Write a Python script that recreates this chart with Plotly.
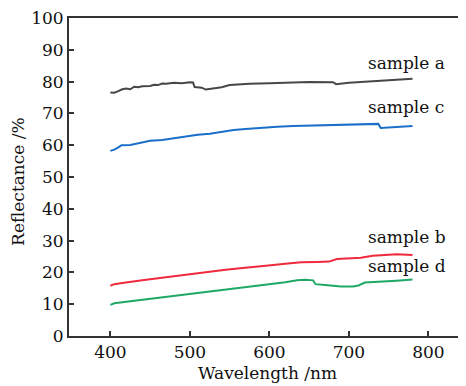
import plotly.graph_objects as go

wl_a = [400, 405, 410, 415, 420, 425, 430, 435, 440, 450, 455, 460, 465, 470, 480, 490, 500, 504, 506, 515, 520, 530, 540, 550, 560, 575, 600, 625, 650, 680, 684, 700, 720, 740, 760, 780]
val_a = [76.6, 76.5, 77.0, 77.6, 77.8, 77.6, 78.4, 78.2, 78.5, 78.6, 79.0, 78.9, 79.4, 79.3, 79.6, 79.5, 79.8, 79.7, 78.3, 78.1, 77.5, 77.8, 78.2, 78.9, 79.1, 79.3, 79.5, 79.8, 79.9, 79.8, 79.2, 79.6, 80.0, 80.3, 80.6, 80.9]

wl_c = [400, 405, 410, 414, 425, 430, 440, 450, 465, 475, 490, 500, 510, 525, 540, 555, 570, 590, 610, 630, 660, 690, 720, 737, 740, 760, 780]
val_c = [58.2, 58.6, 59.3, 60.0, 60.1, 60.4, 61.0, 61.4, 61.6, 62.0, 62.4, 62.8, 63.3, 63.6, 64.3, 64.8, 65.1, 65.5, 65.8, 66.0, 66.2, 66.4, 66.6, 66.7, 65.4, 65.6, 66.0]

wl_b = [400, 405, 415, 425, 440, 455, 470, 485, 500, 515, 530, 545, 560, 575, 590, 605, 620, 640, 660, 675, 685, 700, 715, 730, 745, 760, 780]
val_b = [15.8, 16.3, 16.7, 17.1, 17.5, 18.0, 18.5, 19.0, 19.4, 19.9, 20.3, 20.8, 21.2, 21.5, 21.9, 22.3, 22.7, 23.2, 23.3, 23.4, 24.2, 24.4, 24.6, 25.2, 25.4, 25.7, 25.5]

wl_d = [400, 405, 415, 425, 440, 455, 470, 485, 500, 515, 530, 545, 560, 575, 590, 605, 620, 635, 645, 655, 658, 670, 690, 705, 712, 720, 740, 760, 780]
val_d = [9.8, 10.3, 10.6, 10.9, 11.4, 11.8, 12.3, 12.7, 13.1, 13.6, 14.1, 14.6, 15.0, 15.5, 15.9, 16.4, 16.9, 17.5, 17.7, 17.5, 16.3, 16.0, 15.6, 15.6, 15.9, 16.8, 17.0, 17.4, 17.8]

labels = ["sample a", "sample c", "sample b", "sample d"]
label_y = [86, 72, 31, 22]
x_ticks = [400, 500, 600, 700, 800]
y_ticks = [0, 10, 20, 30, 40, 50, 60, 70, 80, 90, 100]

FONT = "DejaVu Serif"
TXT = "#111"
fig = go.Figure()
series = [(wl_a, val_a, "#474747"), (wl_c, val_c, "#1b6fc8"), (wl_b, val_b, "#ee2a3c"), (wl_d, val_d, "#1fa866")]
for (x, y, c), name in zip(series, labels):
    fig.add_trace(go.Scatter(x=x, y=y, mode="lines", name=name, line=dict(color=c, width=2)))

for name, yy in zip(labels, label_y):
    fig.add_annotation(x=722, y=yy, text=name, showarrow=False, xanchor="left", yanchor="middle",
                       font=dict(family=FONT, size=17, color=TXT))

fig.add_annotation(xref="paper", yref="paper", x=0.5, y=-0.116, text="Wavelength /nm", showarrow=False,
                   xanchor="center", yanchor="middle", font=dict(family=FONT, size=17, color=TXT))
fig.add_annotation(xref="paper", yref="paper", x=-0.129, y=0.4875, text="Reflectance /%", showarrow=False,
                   textangle=-90, xanchor="center", yanchor="middle", font=dict(family=FONT, size=17, color=TXT))

axis_common = dict(showline=True, linecolor="#333", linewidth=2, mirror=True, ticks="inside",
                   ticklen=5, tickcolor="#333", tickwidth=1.5, showgrid=False, zeroline=False,
                   automargin=False, ticklabeloverflow="allow",
                   tickfont=dict(family=FONT, size=17, color=TXT))
fig.update_xaxes(range=[348, 846], tickvals=x_ticks, **axis_common)
fig.update_yaxes(range=[0, 100], tickvals=y_ticks, **axis_common)
# page body adds an 8px offset; size the figure so the plot area lands where the reference has it
fig.update_layout(width=458, height=378, margin=dict(l=61, r=1, t=10, b=50),
                  plot_bgcolor="white", paper_bgcolor="white", showlegend=False)
fig.write_html("out.html")
